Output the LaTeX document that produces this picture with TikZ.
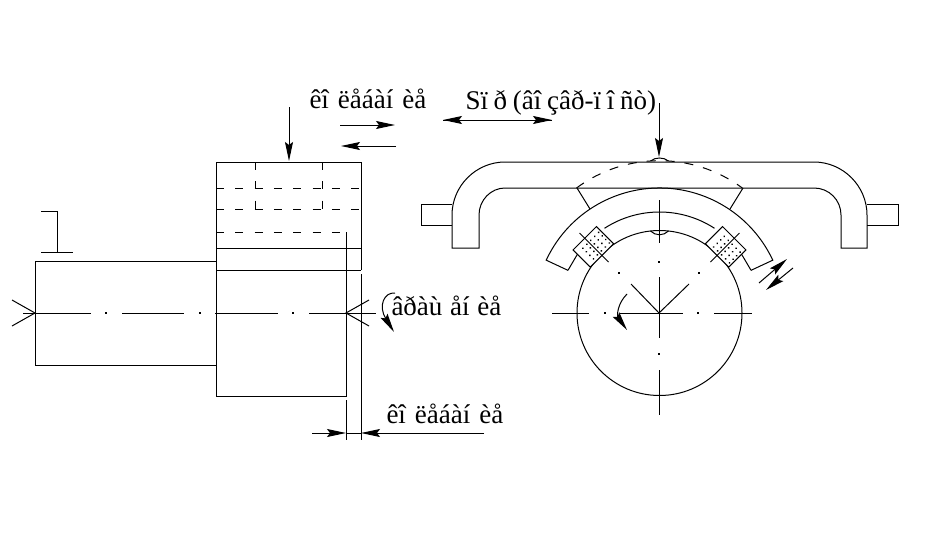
\documentclass[tikz,border=0pt]{standalone}
\usepackage{fontspec}
\setmainfont{Liberation Serif}
\usetikzlibrary{arrows.meta}
\begin{document}
\begin{tikzpicture}[x = 1pt, y = -1pt, line width = 1pt,
        arr/.style = {-{Stealth[length = 19pt, width = 8pt, inset = 3pt]}},
        hid/.style = {dash pattern = on 8pt off 11.3pt},
        lab/.style = {anchor = base west, inner sep = 0pt, font = \fontsize{27}{29}\selectfont},
        centerdot/.style = {fill, inner sep = 0pt, minimum size = 1.6pt}]
    \useasboundingbox (0, 0) rectangle (932, 536);

    \node[lab] (feedtop) at (309, 108) {\spaceskip = 9pt\relax êî ëåáàí èå};
    \node[lab] (stroke) at (465, 109) {\spaceskip = 5.75pt\relax Sï ð (âî çâð-ï î ñò)};
    \node[lab] (rotation) at (391, 315) {\spaceskip = 7.75pt\relax âðàù åí èå};
    \node[lab] (feedbot) at (386, 423) {\spaceskip = 9pt\relax êî ëåáàí èå};

    % left shaft
    \draw (35, 261) rectangle (216, 365);
    \draw (41, 211) -- (57, 211) -- (57, 252);
    \draw (41, 252) -- (73, 252);
    \draw (12, 300) -- (35, 313) -- (12, 326);
    \draw (369, 300) -- (346, 313) -- (369, 326);

    % wheel block
    \draw (361, 270) -- (361, 162) -- (216, 162) -- (216, 396) -- (346, 396) -- (346, 232);
    \draw (216, 248) -- (361, 248);
    \draw (216, 270) -- (361, 270);
    \draw (361, 274) -- (361, 440);
    \draw (346, 400) -- (346, 440);
    \draw[hid] (216, 188) -- (361, 188);
    \draw[hid] (216, 209) -- (361, 209);
    \draw[hid] (216, 232) -- (346, 232);
    \draw[hid] (255, 162) -- (255, 209);
    \draw[hid] (322, 162) -- (322, 209);

    % centre line of the shaft
    \draw (23, 313) -- (91, 313);
    \draw (122, 313) -- (184, 313);
    \draw (215, 313) -- (278, 313);
    \draw (309, 313) -- (376, 313);
    \foreach \x in {106, 200, 293}
        \node[centerdot] (dot\x) at (\x, 313) {};

    % arrows on the left
    \draw[arr] (289, 107) -- (289, 161);
    \draw[arr] (340, 125) -- (395, 125);
    \draw[arr] (396, 146) -- (341, 146);
    \draw[arr] (395, 293) .. controls (384, 292) and (378, 306) .. (394, 332);
    \draw[arr] (312, 433) -- (346, 433);
    \draw[arr] (484, 433) -- (361, 433);
    \draw (346, 433) -- (361, 433);

    % clamp
    \draw (452, 248) -- (452, 215) .. controls (452, 186) and (476, 162) .. (505, 162) -- (814, 162)
        .. controls (843, 162) and (867, 186) .. (867, 215) -- (867, 248) -- (841, 248) -- (841, 215)
        .. controls (841, 200) and (829, 188) .. (814, 188) -- (505, 188)
        .. controls (491, 188) and (479, 200) .. (479, 215) -- (479, 248) -- cycle;
    \draw (452, 204) -- (421, 204) -- (421, 225) -- (452, 225);
    \draw (867, 204) -- (898, 204) -- (898, 225) -- (867, 225);
    \draw (577, 188) -- (590, 209);
    \draw (743, 188) -- (730, 209);

    % wheel, band and pads
    \begin{scope}[shift = {(659.5, 313)}, yscale = -1]
        \draw (0, 0) circle [radius = 82.5];
        \draw (155:101) -- (155:125) arc [start angle = 155, end angle = 25, radius = 125] -- (25:101);
        \draw (155:101) -- (144:101);
        \draw (25:101) -- (36:101);
        \draw (123:101) arc [start angle = 123, end angle = 57, radius = 101];
        \draw[dash pattern = on 9pt off 10pt] (-83, 125) arc [start angle = 126.5, end angle = 53.5, radius = 139.4];
        \draw (-9, 152) .. controls (-4, 156) and (4, 156) .. (9, 152);
        \draw (-9, 82) .. controls (-4, 77) and (4, 77) .. (9, 82);
        \foreach \a in {135, 45} {
            \begin{scope}[rotate = -\a]
                \draw[fill = white] (81.4, -16.5) rectangle (105.7, 16.5);
                \draw (72, 0) -- (113, 0);
                \foreach \r in {85, 90, ..., 103}
                    \foreach \s in {-14, -8.4, ..., 14}
                        \fill (\r, \s) circle [radius = 1];
            \end{scope}
        }
    \end{scope}

    % centre lines of the wheel
    \draw (552, 313) -- (589, 313);
    \draw (620, 313) -- (683, 313);
    \draw (714, 313) -- (752, 313);
    \draw (659, 200) -- (659, 243);
    \draw (659, 277) -- (659, 338);
    \draw (659, 370) -- (659, 415);
    \foreach \x/\y in {605/313, 698/313, 659/262, 659/354, 619/273, 699/273}
        \node[centerdot] (dot\x\y) at (\x, \y) {};
    \draw (631, 284) -- (659, 313) -- (689, 284);

    % arrows on the right
    \draw[arr] (443, 120) -- (552, 120);
    \draw[arr] (552, 120) -- (443, 120);
    \draw[arr] (659, 103) -- (659, 157);
    \draw[arr] (627, 294) .. controls (617, 304) and (617, 316) .. (627, 330);
    \draw[arr] (759, 283) -- (787, 259);
    \draw[arr] (793, 268) -- (766, 290);
\end{tikzpicture}
\end{document}
